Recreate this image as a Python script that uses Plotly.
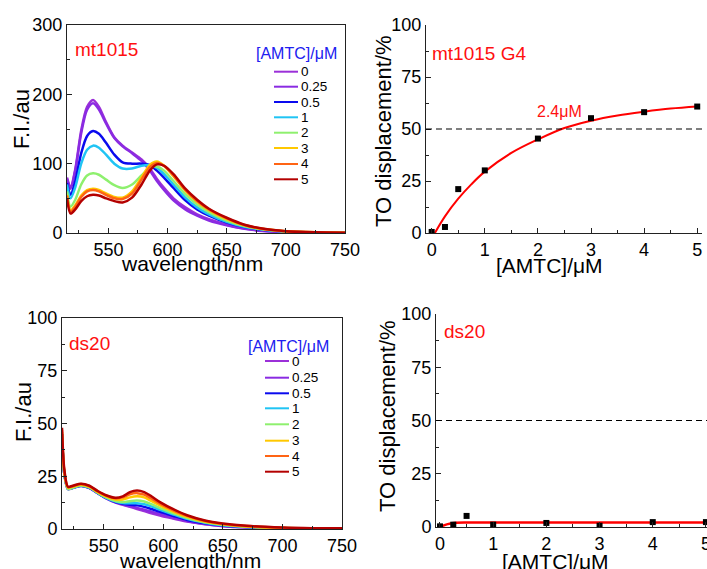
import plotly.graph_objects as go

# ---------------- data ----------------
conc_labels = ["0", "0.25", "0.5", "1", "2", "3", "4", "5"]
colors = ["#9B30D8", "#8A2BE2", "#0A0AEE", "#20C4F4", "#8EF06E", "#FFC800", "#FF6414", "#B40000"]

# mt1015 spectra
wl_mt = [515, 518, 522, 527, 532, 537, 542, 548, 555, 562, 570, 578, 585, 591, 597, 605,
         615, 625, 635, 650, 665, 680, 700, 725, 750]
fi_mt_0 = [80, 66, 92, 148, 182, 192, 182, 160, 138, 126, 116, 106, 93, 78, 65, 50,
           37, 27, 20, 12, 6.5, 3.5, 1.5, 0.6, 0.3]
fi_mt_025 = [78, 64, 90, 144, 178, 187, 178, 158, 137, 125, 115, 104, 90, 75, 62, 47,
             34, 25, 18, 11, 6, 3, 1.3, 0.5, 0.2]
fi_mt_05 = [72, 55, 75, 115, 140, 147, 143, 130, 113, 102, 100, 100, 98, 90, 80, 65,
            47, 34, 25, 15, 8.5, 4.5, 2, 0.8, 0.4]
fi_mt_1 = [70, 50, 66, 100, 120, 126, 123, 113, 100, 93, 93, 97, 98, 94, 85, 70,
           51, 37, 27, 16, 9, 5, 2, 0.8, 0.4]
fi_mt_2 = [60, 38, 48, 70, 83, 86, 84, 77, 69, 65, 70, 83, 94, 96, 90, 75,
           56, 41, 30, 18, 10, 5.5, 2.3, 1, 0.5]
fi_mt_3 = [55, 33, 40, 54, 62, 64, 62, 57, 52, 51, 60, 80, 98, 103, 97, 82,
           61, 45, 33, 20, 11, 6, 2.5, 1, 0.5]
fi_mt_4 = [54, 31, 38, 52, 60, 62, 60, 55, 50, 49, 57, 77, 95, 101, 97, 83,
           62, 46, 34, 21, 11.5, 6.2, 2.6, 1, 0.5]
fi_mt_5 = [50, 28, 34, 46, 53, 55, 54, 50, 46, 44, 51, 70, 90, 99, 97, 85,
           64, 48, 35, 22, 12, 6.5, 2.7, 1.1, 0.5]
fi_mt = [fi_mt_0, fi_mt_025, fi_mt_05, fi_mt_1, fi_mt_2, fi_mt_3, fi_mt_4, fi_mt_5]

# ds20 spectra
wl_ds = [515, 517, 520, 524, 531, 538, 545, 552, 560, 566, 572, 578, 584, 590, 598,
         608, 620, 635, 650, 670, 700, 725, 750]
fi_ds_0 = [45, 26, 19, 19.5, 20.5, 19.5, 17, 14.5, 12.5, 11.5, 10.5, 9.5, 8.5, 7.5, 6.3,
           5, 3.5, 2.2, 1.3, 0.7, 0.3, 0.2, 0.1]
fi_ds_025 = [45, 26, 19, 19.4, 20.4, 19.4, 17, 14.6, 12.6, 11.7, 10.8, 10, 9.2, 8.2, 7,
             5.5, 3.8, 2.4, 1.4, 0.8, 0.3, 0.2, 0.1]
fi_ds_05 = [45, 26, 19, 19.5, 20.5, 19.5, 17, 14.7, 12.8, 12, 11.5, 11.2, 10.5, 9.5, 8,
            6.3, 4.3, 2.7, 1.6, 0.9, 0.4, 0.2, 0.1]
fi_ds_1 = [45, 26, 19, 19.5, 20.5, 19.6, 17.1, 14.8, 13, 12.3, 12.2, 12.2, 11.7, 10.7, 9,
           7, 4.8, 3, 1.8, 1, 0.4, 0.25, 0.15]
fi_ds_2 = [45, 26, 19, 19.6, 20.6, 19.7, 17.2, 15, 13.3, 12.8, 13.2, 13.5, 13, 11.8, 9.8,
           7.6, 5.2, 3.2, 2, 1.1, 0.5, 0.3, 0.2]
fi_ds_3 = [46, 27, 19.6, 20.1, 21, 20, 17.5, 15.5, 14, 14, 15, 15.5, 15, 13.3, 11,
           8.4, 5.8, 3.5, 2.2, 1.2, 0.5, 0.3, 0.2]
fi_ds_4 = [47, 27, 19.8, 20.3, 21.3, 20.3, 17.8, 15.8, 14.5, 15, 16.5, 17, 16.3, 14.5, 11.8,
           9, 6.2, 3.8, 2.4, 1.4, 0.6, 0.35, 0.25]
fi_ds_5 = [48, 28, 20, 20.5, 21.5, 20.5, 18, 16, 14.8, 15.5, 17.5, 18.2, 17.5, 15.5, 12.5,
           9.5, 6.5, 4, 2.6, 1.5, 0.7, 0.4, 0.3]
fi_ds = [fi_ds_0, fi_ds_025, fi_ds_05, fi_ds_1, fi_ds_2, fi_ds_3, fi_ds_4, fi_ds_5]

# displacement data
amtc = [0, 0.25, 0.5, 1, 2, 3, 4, 5]
disp_mt = [0.5, 2.9, 21.1, 30.1, 45.4, 55.2, 58.1, 60.8]
disp_ds = [0.3, 1.1, 5.2, 1.1, 1.9, 0.6, 2.3, 2.3]

fit_mt_x = [0.06, 0.25, 0.5, 0.75, 1, 1.5, 2, 2.5, 3, 3.5, 4, 4.5, 5]
fit_mt_y = [0, 8, 16.5, 23.5, 29.5, 38.5, 45, 50.5, 54, 56.5, 58.3, 59.8, 60.8]
fit_ds_x = [0, 0.1, 0.2, 0.3, 0.5, 1, 2, 3, 4, 5]
fit_ds_y = [0, 1.0, 1.6, 1.95, 2.1, 2.1, 2.1, 2.1, 2.1, 2.1]

ic50_label = "2.4\u03bcM"
ic50_pos = (2.4, 58.6)

# ---------------- figure ----------------
FW, FH = 707, 569
FONT = "Liberation Sans, Arial, sans-serif"


def px(x):
    return x / FW


def py(y):
    return 1 - y / FH


fig = go.Figure()

for i, lab in enumerate(conc_labels):
    fig.add_trace(go.Scatter(x=wl_mt, y=fi_mt[i], mode="lines", name=lab,
                             line=dict(color=colors[i], width=2.5, shape="spline", smoothing=0.8),
                             xaxis="x", yaxis="y", showlegend=False))
for i, lab in enumerate(conc_labels):
    fig.add_trace(go.Scatter(x=wl_ds, y=fi_ds[i], mode="lines", name=lab,
                             line=dict(color=colors[i], width=2.5, shape="spline", smoothing=0.8),
                             xaxis="x3", yaxis="y3", showlegend=False))

fig.add_trace(go.Scatter(x=fit_mt_x, y=fit_mt_y, mode="lines",
                         line=dict(color="#FF0000", width=2, shape="spline"),
                         xaxis="x2", yaxis="y2", showlegend=False))
fig.add_trace(go.Scatter(x=amtc, y=disp_mt, mode="markers",
                         marker=dict(symbol="square", size=6, color="black"),
                         xaxis="x2", yaxis="y2", showlegend=False))
fig.add_trace(go.Scatter(x=fit_ds_x, y=fit_ds_y, mode="lines",
                         line=dict(color="#FF0000", width=2.5, shape="spline"),
                         xaxis="x4", yaxis="y4", showlegend=False))
fig.add_trace(go.Scatter(x=amtc, y=disp_ds, mode="markers",
                         marker=dict(symbol="square", size=6, color="black"),
                         xaxis="x4", yaxis="y4", showlegend=False))

tickfont = dict(family=FONT, size=18, color="black")
axcol = "#222222"


def axis(domain, rng, dtick, mdtick, mirror, anchor):
    return dict(domain=domain, range=rng, dtick=dtick, tick0=0, showgrid=False, zeroline=False,
                showline=True, linecolor=axcol, linewidth=1, mirror=mirror,
                ticks="inside", ticklen=5, tickcolor=axcol, tickfont=tickfont,
                minor=dict(ticks="inside", ticklen=3, dtick=mdtick, tickcolor=axcol, tick0=0,
                           showgrid=False),
                anchor=anchor, automargin=False, ticklabeloverflow="allow")


fig.update_layout(
    template="none",
    width=FW, height=FH, autosize=False,
    margin=dict(l=0, r=0, t=0, b=0, pad=0),
    paper_bgcolor="white", plot_bgcolor="white",
    font=dict(family=FONT, color="black"),
    showlegend=False,
    xaxis=axis([px(67), px(345)], [515, 750], 50, 25, True, "y"),
    yaxis=axis([py(233), py(25)], [0, 300], 100, 50, True, "x"),
    xaxis2=axis([px(426), px(702)], [-0.107, 5.09], 1, 0.5, False, "y2"),
    yaxis2=axis([py(233), py(25)], [0, 100], 25, 12.5, False, "x2"),
    xaxis3=axis([px(62), px(342)], [515, 750], 50, 25, True, "y3"),
    yaxis3=axis([py(529), py(318)], [0, 100], 25, 12.5, True, "x3"),
    xaxis4=axis([px(436), 1.0], [-0.075, 5.02], 1, 0.5, False, "y4"),
    yaxis4=axis([py(527), py(314)], [0, 100], 25, 12.5, False, "x4"),
)
fig.layout.xaxis.tickvals = [550, 600, 650, 700, 750]
fig.layout.xaxis3.tickvals = [550, 600, 650, 700, 750]

# dashed 50% lines
for xr, yr in (("x2 domain", "y2"), ("x4 domain", "y4")):
    fig.add_shape(type="line", xref=xr, yref=yr, x0=0, x1=1, y0=50, y1=50,
                  line=dict(color="black", width=1, dash="6px,4px"))

ann = []


def text(x, y, s, size, color="black", angle=0, xanchor="center"):
    ann.append(dict(x=px(x), y=py(y), xref="paper", yref="paper", text=s, showarrow=False,
                    font=dict(family=FONT, size=size, color=color), textangle=angle,
                    xanchor=xanchor, yanchor="middle"))


# axis titles
text(22, 119, "F.I./au", 22, angle=-90)
text(192, 263, "wavelength/nm", 21)
text(383, 131, "TO displacement/%", 22, angle=-90)
text(549, 265, "[AMTC]/\u03bcM", 21)
text(23, 412, "F.I./au", 22, angle=-90)
text(190, 560, "wavelength/nm", 21)
text(387, 416, "TO displacement/%", 22, angle=-90)
text(555, 561, "[AMTC]/\u03bcM", 21)

# panel labels
text(73, 49, "mt1015", 19, "#FF1010", xanchor="left")
text(430, 53, "mt1015 G4", 19, "#FF1010", xanchor="left")
text(67, 343, "ds20", 19, "#FF1010", xanchor="left")
text(442, 331, "ds20", 19, "#FF1010", xanchor="left")

# IC50 label
ann.append(dict(x=ic50_pos[0], y=ic50_pos[1], xref="x2", yref="y2", text=ic50_label,
                showarrow=False, font=dict(family=FONT, size=16, color="#FF1010"),
                xanchor="center", yanchor="middle"))

# manual legends
legends = [
    dict(title_x=296, title_y=53, x0=274, x1=298, ys=[71.7, 86.7, 102, 117.3, 132.7, 148, 164, 179.3]),
    dict(title_x=288, title_y=346, x0=265, x1=289, ys=[361, 377.7, 393.3, 408.3, 424.3, 440.7, 456, 471.7]),
]
for lg in legends:
    text(lg["title_x"], lg["title_y"], "[AMTC]/\u03bcM", 16, "#2020F0")
    for i, lab in enumerate(conc_labels):
        yy = lg["ys"][i]
        fig.add_shape(type="line", xref="paper", yref="paper",
                      x0=px(lg["x0"]), x1=px(lg["x1"]), y0=py(yy), y1=py(yy),
                      line=dict(color=colors[i], width=2))
        text(lg["x1"] + 1, yy, lab, 13.5, xanchor="left")

fig.update_layout(annotations=ann)
fig.write_html("out.html")
